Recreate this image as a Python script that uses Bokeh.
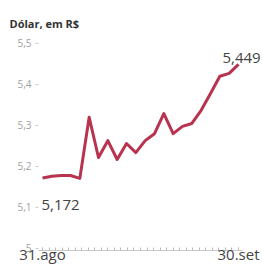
from bokeh.plotting import figure
from bokeh.models import FixedTicker, CustomJSTickFormatter, Label, Range1d
from bokeh.embed import file_html
from bokeh.resources import INLINE

# Trading days, 31 Aug - 30 Sep (USD/BRL)
dates = ["31.ago", "01.set", "02.set", "03.set", "06.set", "08.set", "09.set",
         "10.set", "13.set", "14.set", "15.set", "16.set", "17.set", "20.set",
         "21.set", "22.set", "23.set", "24.set", "27.set", "28.set", "29.set",
         "30.set"]
values = [5.172, 5.176, 5.178, 5.178, 5.171, 5.320, 5.222, 5.263, 5.217,
          5.256, 5.234, 5.263, 5.280, 5.329, 5.280, 5.298, 5.305, 5.337,
          5.378, 5.420, 5.427, 5.449]
y_ticks = [5.0, 5.1, 5.2, 5.3, 5.4, 5.5]
title_text = "Dólar, em R$"

idx = list(range(len(values)))
n = len(values) - 1

FONT = "Open Sans"
LINE_COLOR = "#b8334f"
TEXT_COLOR = "#444444"

x_start, x_end = -0.4286, n + 2.571
axis_end = n + 0.4286
y_start, y_end = 4.9951, 5.5317

p = figure(width=262, height=278, output_backend="svg", toolbar_location=None,
           x_range=Range1d(x_start, x_end), y_range=Range1d(y_start, y_end),
           title=title_text)
p.min_border_left = 38
p.min_border_right = 0
p.min_border_top = 30
p.min_border_bottom = 28
p.outline_line_color = None
p.grid.visible = False
p.background_fill_color = "white"

p.title.align = "left"
p.title.offset = -29
p.title.standoff = 0
p.title.text_font = FONT
p.title.text_font_size = "11px"
p.title.text_font_style = "bold"
p.title.text_color = "#333333"

p.line(idx, values, line_color=LINE_COLOR, line_width=3, line_join="round")

# y axis
ya = p.yaxis[0]
ya.ticker = FixedTicker(ticks=y_ticks, minor_ticks=[])
ya.formatter = CustomJSTickFormatter(
    code="return (Math.round(tick*10)/10).toString().replace('.', ',');")
ya.axis_line_color = None
ya.major_tick_in = 0
ya.major_tick_out = 3
ya.major_tick_line_color = "#cccccc"
ya.major_label_text_font = FONT
ya.major_label_text_font_size = "10px"
ya.major_label_text_color = "#a0a0a0"
ya.major_label_standoff = 4

# x axis: baseline, small daily ticks, first/last date labels
xa = p.xaxis[0]
minor = [i * n / 30 for i in range(31)]
xa.ticker = FixedTicker(ticks=[0, n], minor_ticks=minor)
xa.bounds = (x_start, axis_end)
xa.major_label_overrides = {0: dates[0], n: dates[-1]}
xa.axis_label = None
xa.axis_line_color = "#c8c8c8"
xa.major_tick_in = 3
xa.major_tick_out = 0
xa.minor_tick_in = 3
xa.minor_tick_out = 0
xa.major_tick_line_color = "#bbbbbb"
xa.minor_tick_line_color = "#bbbbbb"
xa.major_label_text_font = FONT
xa.major_label_text_font_size = "15px"
xa.major_label_text_color = TEXT_COLOR
xa.major_label_standoff = -7

# value labels
p.add_layout(Label(x=idx[0], y=values[0], text=f"{values[0]:.3f}".replace(".", ","),
                   x_offset=-1, y_offset=-27, text_align="left",
                   text_baseline="alphabetic",
                   text_font=FONT, text_font_size="15px", text_color=TEXT_COLOR))
p.add_layout(Label(x=idx[-1], y=values[-1], text=f"{values[-1]:.3f}".replace(".", ","),
                   x_offset=-16, y_offset=6, text_align="left",
                   text_baseline="alphabetic",
                   text_font=FONT, text_font_size="15px", text_color=TEXT_COLOR))

open("out.html", "w").write(file_html(p, INLINE))
